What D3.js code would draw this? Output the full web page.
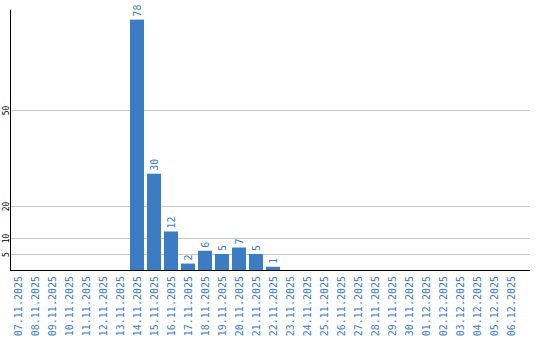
<!DOCTYPE html>
<html><head><meta charset="utf-8">
<script src="https://cdn.jsdelivr.net/npm/d3@7"></script>
<style>body{margin:0;background:#fff}svg{display:block}</style>
</head><body>
<script>
const categories = ["07.11.2025","08.11.2025","09.11.2025","10.11.2025","11.11.2025","12.11.2025","13.11.2025","14.11.2025","15.11.2025","16.11.2025","17.11.2025","18.11.2025","19.11.2025","20.11.2025","21.11.2025","22.11.2025","23.11.2025","24.11.2025","25.11.2025","26.11.2025","27.11.2025","28.11.2025","29.11.2025","30.11.2025","01.12.2025","02.12.2025","03.12.2025","04.12.2025","05.12.2025","06.12.2025"];
const values = [0,0,0,0,0,0,0,78,30,12,2,6,5,7,5,1,0,0,0,0,0,0,0,0,0,0,0,0,0,0];
const yTicks = [5,10,20,50];

const W = 540, H = 340;
const blue = "#3b7cc2";
const svg = d3.select("body").append("svg").attr("width", W).attr("height", H);

const x = d3.scaleBand().domain(categories).range([11, 518]).paddingInner(3/17).paddingOuter(0);
const y = d3.scaleLinear().domain([0, 81]).range([270, 10]);

// gridlines
svg.append("g").selectAll("line").data(yTicks).join("line")
  .attr("x1", 11).attr("x2", 530)
  .attr("y1", d => Math.round(y(d)) + 0.5).attr("y2", d => Math.round(y(d)) + 0.5)
  .attr("stroke", "#c8c8c8").attr("stroke-width", 1);

// y tick labels
svg.append("g").selectAll("text").data(yTicks).join("text")
  .attr("transform", d => `translate(6,${Math.round(y(d)) + 0.5}) rotate(-90)`)
  .attr("text-anchor", "middle").attr("dy", "0.35em")
  .attr("font-family", "DejaVu Sans Mono, monospace").attr("font-size", 8)
  .attr("fill", "#000").text(d => d);

// bars
svg.append("g").selectAll("rect").data(values).join("rect")
  .attr("x", (d, i) => x(categories[i]))
  .attr("width", x.bandwidth())
  .attr("y", d => y(d))
  .attr("height", d => y(0) - y(d))
  .attr("fill", blue);

// value labels
svg.append("g").selectAll("text").data(values.map((v, i) => ({v, c: categories[i]})).filter(d => d.v > 0)).join("text")
  .attr("transform", d => `translate(${x(d.c) + x.bandwidth() / 2},${y(d.v) - 3}) rotate(-90)`)
  .attr("text-anchor", "start").attr("dy", "0.35em")
  .attr("font-family", "DejaVu Sans Mono, monospace").attr("font-size", 10)
  .attr("fill", blue).text(d => d.v);

// x labels
svg.append("g").selectAll("text").data(categories).join("text")
  .attr("transform", d => `translate(${x(d) + x.bandwidth() / 2},276) rotate(-90)`)
  .attr("text-anchor", "end").attr("dy", "0.35em")
  .attr("font-family", "DejaVu Sans Mono, monospace").attr("font-size", 10)
  .attr("fill", blue).text(d => d);

// axes lines
svg.append("line").attr("x1", 10.5).attr("x2", 10.5).attr("y1", 10).attr("y2", 271)
  .attr("stroke", "#000").attr("stroke-width", 1);
svg.append("line").attr("x1", 10).attr("x2", 530).attr("y1", 270.5).attr("y2", 270.5)
  .attr("stroke", "#000").attr("stroke-width", 1);
</script>
</body></html>
